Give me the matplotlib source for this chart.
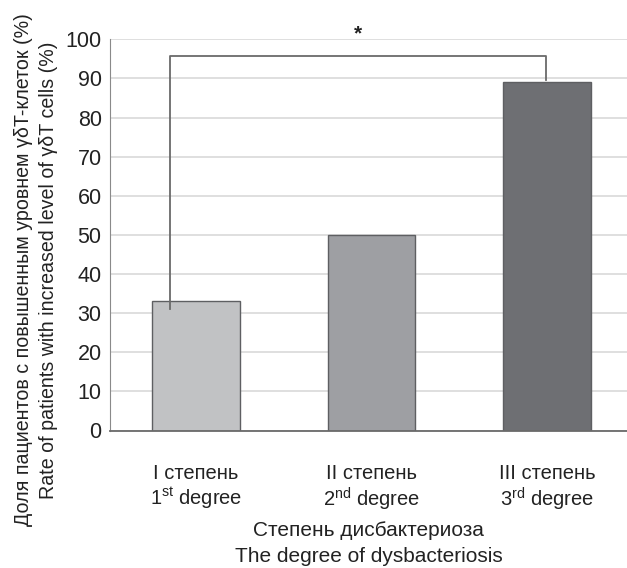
import matplotlib
matplotlib.use('Agg')
import matplotlib.pyplot as plt

## data
categories = ['I степень\n1$^{\\mathrm{st}}$ degree',
              'II степень\n2$^{\\mathrm{nd}}$ degree',
              'III степень\n3$^{\\mathrm{rd}}$ degree']
values = [33, 50, 89]
bar_colors = ['#c1c2c4', '#9e9fa3', '#6e6f73']
yticks = [0, 10, 20, 30, 40, 50, 60, 70, 80, 90, 100]

# significance bracket (I vs III)
bracket_x = [-0.147, -0.147, 1.993, 1.993]
bracket_y = [31, 95.8, 95.8, 89.6]
star_y = 101.4

plt.rcParams['font.family'] = ['Liberation Sans Narrow', 'Liberation Sans', 'DejaVu Sans']
plt.rcParams['mathtext.fontset'] = 'custom'
plt.rcParams['mathtext.rm'] = 'Liberation Sans'

fig = plt.figure(figsize=(6.27, 5.68), dpi=100)
ax = fig.add_axes([110/627, 137.5/568, 517/627, 391.2/568])

x = list(range(len(values)))
ax.bar(x, values, width=0.5, color=bar_colors, edgecolor='#5e5f62', linewidth=1.0, zorder=2)

ax.set_ylim(0, 100)
ax.set_xlim(-0.49, 2.455)
ax.set_yticks(yticks)
ax.set_xticks(x)
ax.set_xticklabels(categories, fontsize=14.5, linespacing=1.15)
ax.tick_params(axis='y', length=0, labelsize=15.5, pad=6, colors='#222222')
ax.tick_params(axis='x', length=0, pad=24, colors='#222222')
ax.yaxis.grid(True, color='#d9d9d9', linewidth=1.2, zorder=0)
ax.set_axisbelow(True)

for s in ['top', 'right']:
    ax.spines[s].set_visible(False)
ax.spines['left'].set_color('#8a8a8a')
ax.spines['bottom'].set_color('#6a6a6a')
ax.spines['bottom'].set_linewidth(1.3)

ax.plot(bracket_x, bracket_y, color='#6a6a6a', linewidth=1.3, zorder=3, clip_on=False)
ax.text((bracket_x[0] + bracket_x[-1]) / 2, star_y, '*', ha='center', va='center',
        fontsize=15, fontweight='bold', color='#222222', clip_on=False)

ax.set_xlabel('Степень дисбактериоза\nThe degree of dysbacteriosis', fontsize=15,
              linespacing=1.45, labelpad=6, color='#222222')

fig.text(36/627, 1 - 270/568,
         'Доля пациентов с повышенным уровнем γδT-клеток (%)\nRate of patients with increased level of γδT cells (%)',
         rotation=90, ha='center', va='center', fontsize=14.1, linespacing=1.35, color='#222222')

fig.savefig('out.png', dpi=100)
